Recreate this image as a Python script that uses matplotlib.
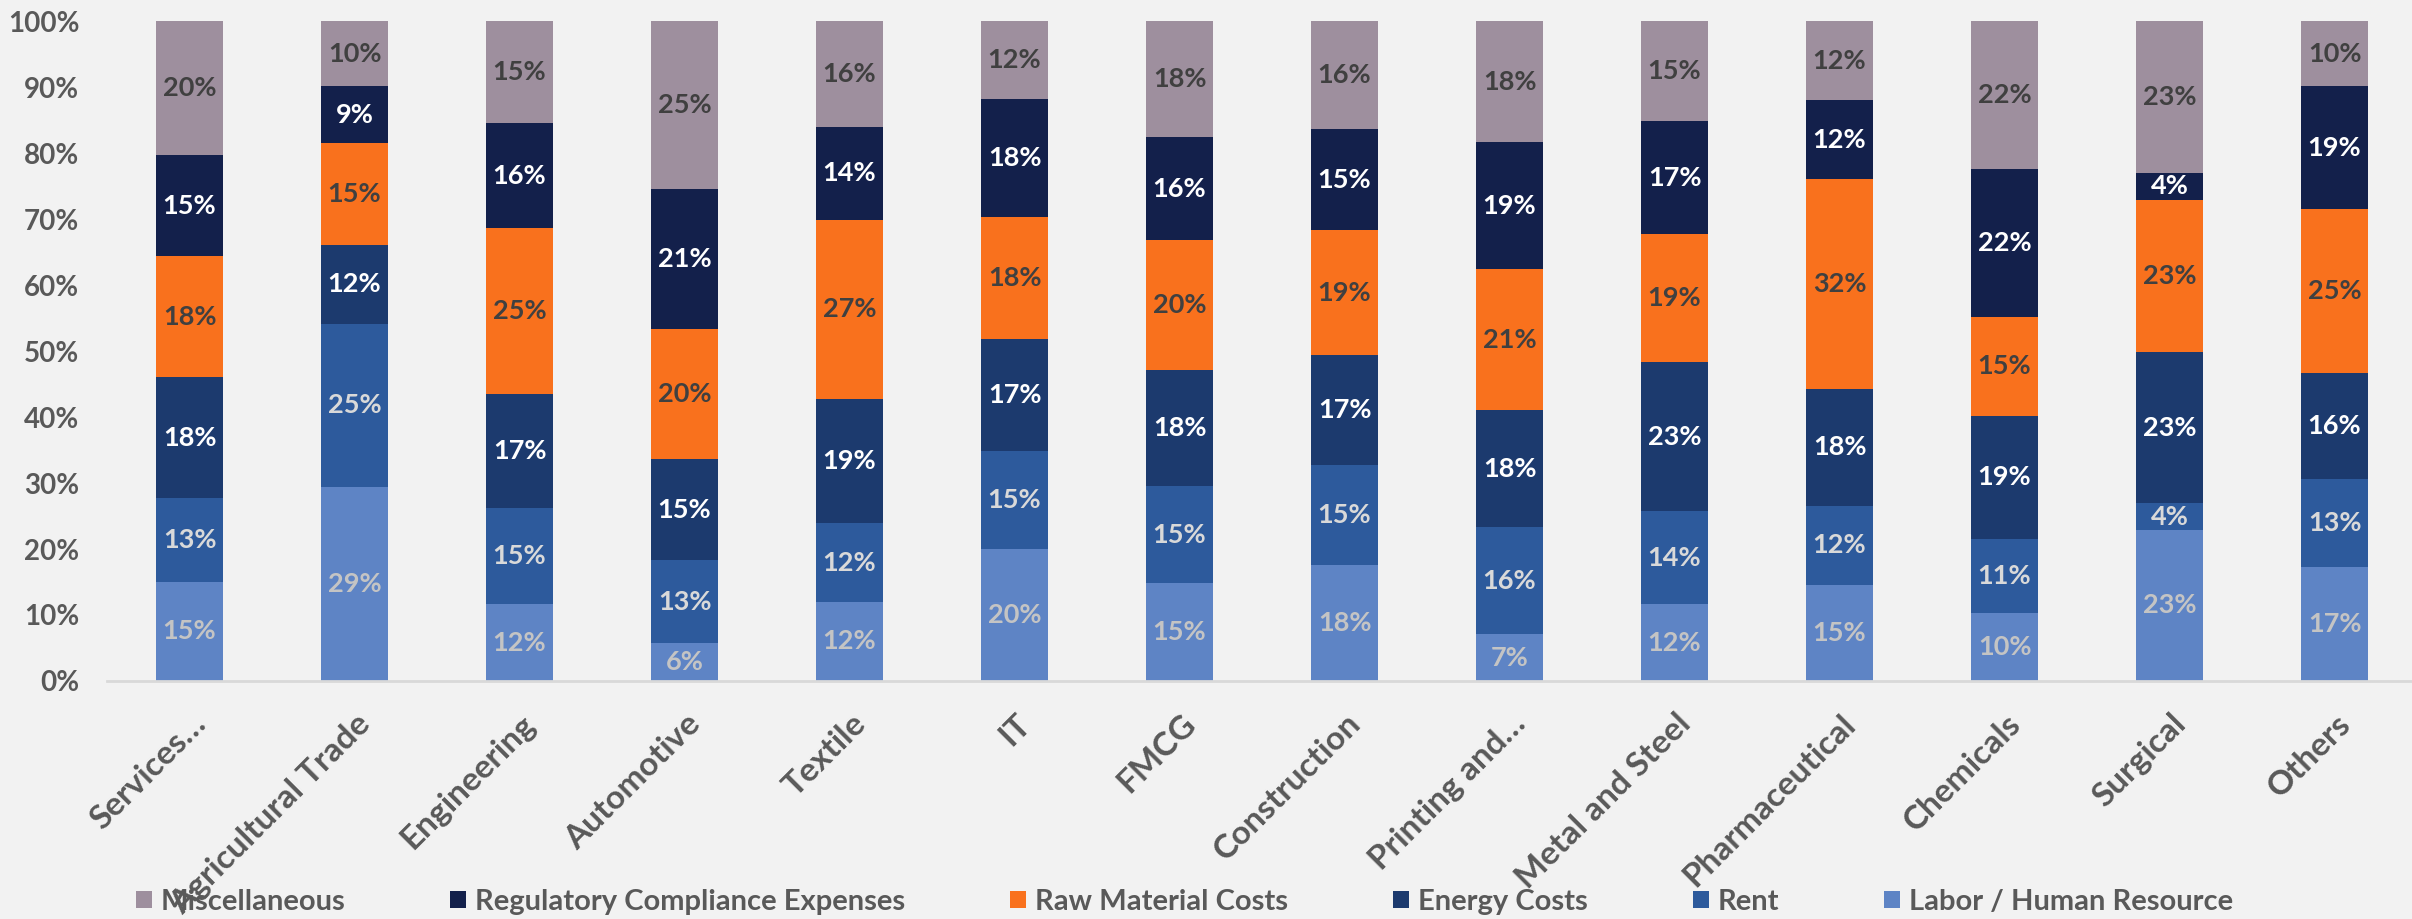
import numpy as np
import matplotlib
matplotlib.use('Agg')
import matplotlib.pyplot as plt
import matplotlib.transforms as mtransforms
from matplotlib.patches import Patch

plt.rcParams['font.family'] = ['Lato', 'DejaVu Sans']

# categories (x axis)
sectors = ['Services\u2026', 'Agricultural Trade', 'Engineering', 'Automotive', 'Textile', 'IT',
           'FMCG', 'Construction', 'Printing and\u2026', 'Metal and Steel', 'Pharmaceutical',
           'Chemicals', 'Surgical', 'Others']

# shares in percent, bottom -> top
labor = [15.0, 29.4, 11.6, 5.7, 12.0, 20.0, 14.8, 17.6, 7.1, 11.6, 14.6, 10.3, 22.9, 17.3]
rent = [12.7, 24.7, 14.6, 12.6, 11.9, 14.8, 14.7, 15.2, 16.2, 14.1, 11.9, 11.2, 4.0, 13.3]
energy = [18.3, 12.0, 17.3, 15.3, 18.9, 17.1, 17.6, 16.6, 17.8, 22.7, 17.8, 18.7, 23.0, 16.0]
raw_material = [18.4, 15.4, 25.1, 19.7, 27.1, 18.4, 19.7, 18.9, 21.3, 19.4, 31.7, 15.0, 23.0, 24.9]
regulatory = [15.3, 8.6, 16.0, 21.3, 14.1, 17.9, 15.6, 15.3, 19.3, 17.0, 12.0, 22.4, 4.1, 18.6]
misc = [20.3, 9.9, 15.4, 25.4, 16.0, 11.8, 17.6, 16.4, 18.3, 15.2, 12.0, 22.4, 23.0, 9.9]

series = [
    ('Labor / Human Resource', labor, '#5E84C5', '#C4C4C4'),
    ('Rent', rent, '#2D5A9C', '#D9D9D9'),
    ('Energy Costs', energy, '#1C3A6E', 'white'),
    ('Raw Material Costs', raw_material, '#F9711D', '#404040'),
    ('Regulatory Compliance Expenses', regulatory, '#13204B', 'white'),
    ('Miscellaneous', misc, '#9E8F9E', '#404040'),
]

bg = '#F2F2F2'
txt = '#595959'

fig = plt.figure(figsize=(24.12, 9.19), dpi=100, facecolor=bg)
ax = fig.add_axes([0.0444, 0.259, 0.9577, 0.718])
ax.set_facecolor(bg)

x = np.arange(len(sectors))
bottom = np.zeros(len(sectors))
handles = []
for name, vals, col, lcol in series:
    vals = np.array(vals)
    bars = ax.bar(x, vals, 0.405, bottom=bottom, color=col, label=name, zorder=2)
    ax.bar_label(bars, labels=[f'{v:.0f}%' for v in vals], label_type='center',
                 color=lcol, fontsize=19.5, fontweight='bold')
    bottom += vals
    handles.append(Patch(facecolor=col, label=name))

ax.set_xlim(-0.5, 13.5)
ax.set_ylim(0, 100)
ax.set_yticks(np.arange(0, 101, 10))
ax.set_yticklabels([f'{t}%' for t in range(0, 101, 10)], fontsize=20, fontweight='bold', color=txt)
ax.tick_params(axis='y', length=0, pad=20)
ax.tick_params(axis='x', length=0, pad=20)
ax.set_xticks(x)
ax.set_xticklabels(sectors, rotation=45, ha='right', va='top', rotation_mode='anchor',
                   fontsize=24, fontweight='bold', color=txt)
offset = mtransforms.ScaledTranslation(1 / 100, 0, fig.dpi_scale_trans)
for lab in ax.get_xticklabels():
    lab.set_transform(lab.get_transform() + offset)

for s in ['top', 'right', 'left']:
    ax.spines[s].set_visible(False)
ax.spines['bottom'].set_color('#D9D9D9')
ax.spines['bottom'].set_linewidth(2)

leg = fig.legend(handles=handles[::-1], loc='center', bbox_to_anchor=(0.491, 0.0185), ncol=6,
                 frameon=False, handlelength=0.55, handleheight=0.55,
                 handletextpad=0.3, columnspacing=3.6, labelcolor=txt,
                 prop={'size': 21, 'weight': 'bold'})

fig.savefig('out.png', dpi=100, facecolor=bg)
